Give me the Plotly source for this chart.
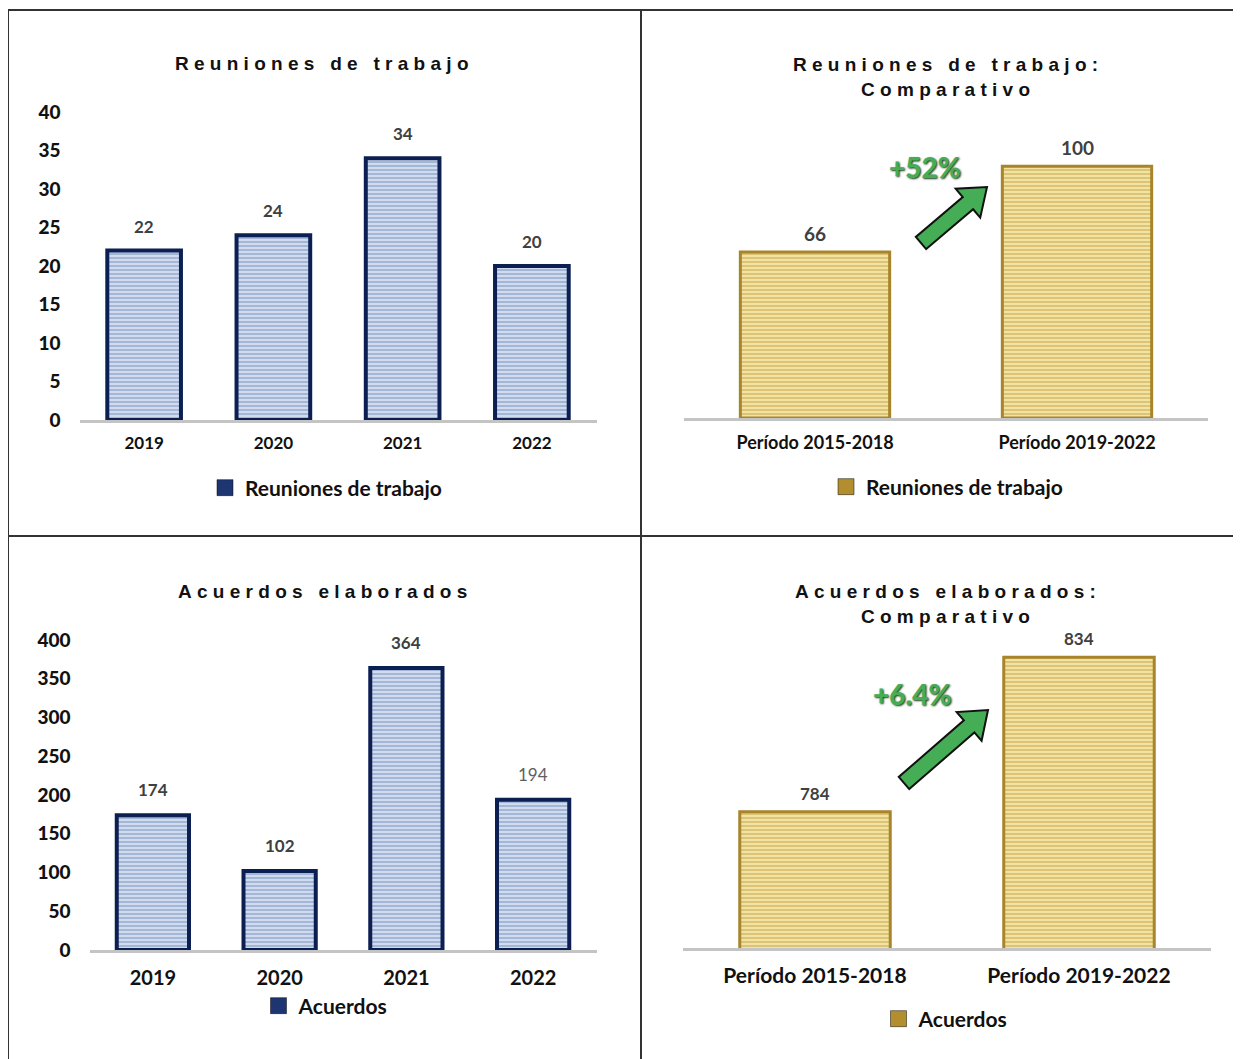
import plotly.graph_objects as go

W, H = 1241, 1059
OFF = 8  # page body margin of the exported html

# data
years = ["2019", "2020", "2021", "2022"]
reuniones = [22, 24, 34, 20]
acuerdos = [174, 102, 364, 194]
periodos = ["Período 2015-2018", "Período 2019-2022"]
reuniones_comp = [66, 100]
acuerdos_comp = [784, 834]
acuerdos_bold = [True, True, True, False]
pct_reuniones = "+52%"
pct_acuerdos = "+6.4%"

NAVY = "#0c1f52"
GOLD_LINE = "#a8842a"
FONT = "Lato"
TITLE_FONT = "Liberation Sans"


def px_x(p):
    return (p - OFF) / W


def px_y(p):
    return 1 - (p - OFF) / H


def spaced(s):
    # emulate the wide letter spacing of the original titles
    return "\u00a0".join("\u00a0" if c == " " else c for c in s)


def block_arrow(x0, y0, x1, y1, shaft=8, head=19, head_len=25):
    # simple block arrow polygon, built in pixels then moved to paper coords
    dx, dy = x1 - x0, y1 - y0
    L = (dx * dx + dy * dy) ** 0.5
    ux, uy = dx / L, dy / L
    nx, ny = -uy, ux
    bx, by = x1 - ux * head_len, y1 - uy * head_len
    pts = [
        (x0 + nx * shaft, y0 + ny * shaft),
        (bx + nx * shaft, by + ny * shaft),
        (bx + nx * head, by + ny * head),
        (x1, y1),
        (bx - nx * head, by - ny * head),
        (bx - nx * shaft, by - ny * shaft),
        (x0 - nx * shaft, y0 - ny * shaft),
    ]
    path = "M " + " L ".join(f"{px_x(x):.5f},{px_y(y):.5f}" for x, y in pts) + " Z"
    return dict(type="path", xref="paper", yref="paper", path=path,
                fillcolor="#45ad55", line=dict(color="#111111", width=2), layer="above")


blue_bar = dict(color="#c9d7ec", line=dict(color=NAVY, width=4),
                pattern=dict(shape="-", fgcolor="#7890bb", bgcolor="#d0dcee", size=4, solidity=0.5))
gold_bar = dict(color="#eedb92", line=dict(color=GOLD_LINE, width=3),
                pattern=dict(shape="-", fgcolor="#c4a64c", bgcolor="#f3e3a2", size=4, solidity=0.5))

fig = go.Figure()
fig.add_trace(go.Bar(x=years, y=reuniones, marker=blue_bar, width=0.57,
                     xaxis="x", yaxis="y", showlegend=False))
fig.add_trace(go.Bar(x=periodos, y=reuniones_comp, marker=gold_bar, width=0.57,
                     xaxis="x2", yaxis="y2", showlegend=False))
fig.add_trace(go.Bar(x=years, y=acuerdos, marker=blue_bar, width=0.57,
                     xaxis="x3", yaxis="y3", showlegend=False))
fig.add_trace(go.Bar(x=periodos, y=acuerdos_comp, marker=gold_bar, width=0.57,
                     xaxis="x4", yaxis="y4", showlegend=False))

# legend entries (filled squares like the original)
legend_items = [
    ("Reuniones de trabajo", "#1d3570", "legend", "x", "y"),
    ("Reuniones de trabajo", "#b38e2e", "legend2", "x2", "y2"),
    ("Acuerdos", "#1d3570", "legend3", "x3", "y3"),
    ("Acuerdos", "#b38e2e", "legend4", "x4", "y4"),
]
for name, col, lg, xa, ya in legend_items:
    fig.add_trace(go.Scatter(x=[None], y=[None], mode="markers", name=name, legend=lg,
                             xaxis=xa, yaxis=ya,
                             marker=dict(symbol="square", size=16, color=col,
                                         line=dict(color="#0a0a0a", width=0.5))))

# value labels (x given as category index)
annotations = []
for i, v in enumerate(reuniones):
    annotations.append(dict(x=i, y=v, xref="x", yref="y", text=f"<b>{v}</b>", showarrow=False,
                            xanchor="center", yanchor="bottom", yshift=12,
                            font=dict(family=FONT, size=17, color="#404040")))
for i, v in enumerate(reuniones_comp):
    annotations.append(dict(x=i, y=v, xref="x2", yref="y2", text=f"<b>{v}</b>", showarrow=False,
                            xanchor="center", yanchor="bottom", yshift=5,
                            font=dict(family=FONT, size=19, color="#404040")))
for i, (v, b) in enumerate(zip(acuerdos, acuerdos_bold)):
    annotations.append(dict(x=i, y=v, xref="x3", yref="y3", text=f"<b>{v}</b>" if b else str(v),
                            showarrow=False, xanchor="center", yanchor="bottom", yshift=13,
                            font=dict(family=FONT, size=17, color="#404040" if b else "#606060")))
for i, v in enumerate(acuerdos_comp):
    annotations.append(dict(x=i, y=v, xref="x4", yref="y4", text=f"<b>{v}</b>", showarrow=False,
                            xanchor="center", yanchor="bottom", yshift=6,
                            font=dict(family=FONT, size=17, color="#404040")))

# titles
title_font = dict(family=TITLE_FONT, size=19, color="#111111")
ttl = dict(xref="paper", yref="paper", showarrow=False, xanchor="center", yanchor="middle")
annotations += [
    dict(ttl, x=px_x(322), y=px_y(64), text="<b>" + spaced("Reuniones de trabajo") + "</b>",
         font=title_font),
    dict(ttl, x=px_x(945), y=px_y(77),
         text="<b>" + spaced("Reuniones de trabajo:") + "<br>" + spaced("Comparativo") + "</b>",
         font=title_font),
    dict(ttl, x=px_x(322), y=px_y(591), text="<b>" + spaced("Acuerdos elaborados") + "</b>",
         font=title_font),
    dict(ttl, x=px_x(945), y=px_y(604),
         text="<b>" + spaced("Acuerdos elaborados:") + "<br>" + spaced("Comparativo") + "</b>",
         font=title_font),
]

pct_font = dict(family=FONT, size=28, color="#45ad55", weight=900, shadow="1px 1px 2px #1a3a1a")
annotations += [
    dict(ttl, x=px_x(925), y=px_y(167), text=pct_reuniones, font=pct_font),
    dict(ttl, x=px_x(912), y=px_y(694), text=pct_acuerdos, font=pct_font),
]

line = dict(color="#333333", width=2)
shapes = [
    dict(type="line", xref="paper", yref="paper", x0=px_x(8), x1=1.01, y0=px_y(10), y1=px_y(10), line=line),
    dict(type="line", xref="paper", yref="paper", x0=px_x(8), x1=px_x(8), y0=px_y(10), y1=-0.01, line=line),
    dict(type="line", xref="paper", yref="paper", x0=px_x(641), x1=px_x(641), y0=px_y(10), y1=-0.01, line=line),
    dict(type="line", xref="paper", yref="paper", x0=px_x(8), x1=1.01, y0=px_y(536), y1=px_y(536), line=line),
    block_arrow(921, 243, 987, 187),
    block_arrow(904, 783, 988, 710),
]

xax = dict(type="category", showline=True, linecolor="#c4c4c4", linewidth=3, showgrid=False,
           ticks="outside", ticklen=0, tickcolor="white", fixedrange=True, automargin=False)
yax = dict(showgrid=False, zeroline=False, showline=False, fixedrange=True, automargin=False)
tickfont_l = dict(family=FONT, size=19, color="#111111", weight=900)

legend_base = dict(orientation="h", xanchor="center", yanchor="middle", bgcolor="rgba(0,0,0,0)",
                   font=dict(family=FONT, size=21, color="#111111", weight="bold"),
                   itemwidth=30, itemclick=False, itemdoubleclick=False, tracegroupgap=0)

fig.update_layout(
    width=W, height=H, margin=dict(l=0, r=0, t=0, b=0, autoexpand=False),
    paper_bgcolor="white", plot_bgcolor="white",
    showlegend=True,
    xaxis=dict(xax, domain=[px_x(79.5), px_x(596.5)], anchor="y", range=[-0.5, 3.5],
               tickfont=dict(family=FONT, size=17, color="#111111", weight="bold"), ticklabelstandoff=6),
    yaxis=dict(yax, domain=[px_y(420), px_y(112)], range=[0, 40], dtick=5, anchor="x",
               tickfont=tickfont_l, ticklabelstandoff=18),
    xaxis2=dict(xax, domain=[px_x(684), px_x(1208)], anchor="y2", range=[-0.5, 1.5],
                tickfont=dict(family=FONT, size=18, color="#111111", weight="bold"), ticklabelstandoff=6),
    yaxis2=dict(yax, domain=[px_y(418), px_y(116)], range=[0, 120], showticklabels=False, anchor="x2"),
    xaxis3=dict(xax, domain=[px_x(89.5), px_x(596.5)], anchor="y3", range=[-0.5, 3.5],
                tickfont=dict(family=FONT, size=20, color="#111111", weight="bold"), ticklabelstandoff=8),
    yaxis3=dict(yax, domain=[px_y(950), px_y(640)], range=[0, 400], dtick=50, anchor="x3",
                tickfont=tickfont_l, ticklabelstandoff=18),
    xaxis4=dict(xax, domain=[px_x(683), px_x(1211)], anchor="y4", range=[-0.5, 1.5],
                tickfont=dict(family=FONT, size=21, color="#111111", weight="bold"), ticklabelstandoff=7),
    yaxis4=dict(yax, domain=[px_y(948), px_y(620)], range=[740, 846], showticklabels=False, anchor="x4"),
    legend=dict(legend_base, x=px_x(326), y=px_y(488)),
    legend2=dict(legend_base, x=px_x(947), y=px_y(487)),
    legend3=dict(legend_base, x=px_x(326), y=px_y(1006)),
    legend4=dict(legend_base, x=px_x(946), y=px_y(1019)),
    annotations=annotations,
    shapes=shapes,
)

fig.write_html("out.html")
